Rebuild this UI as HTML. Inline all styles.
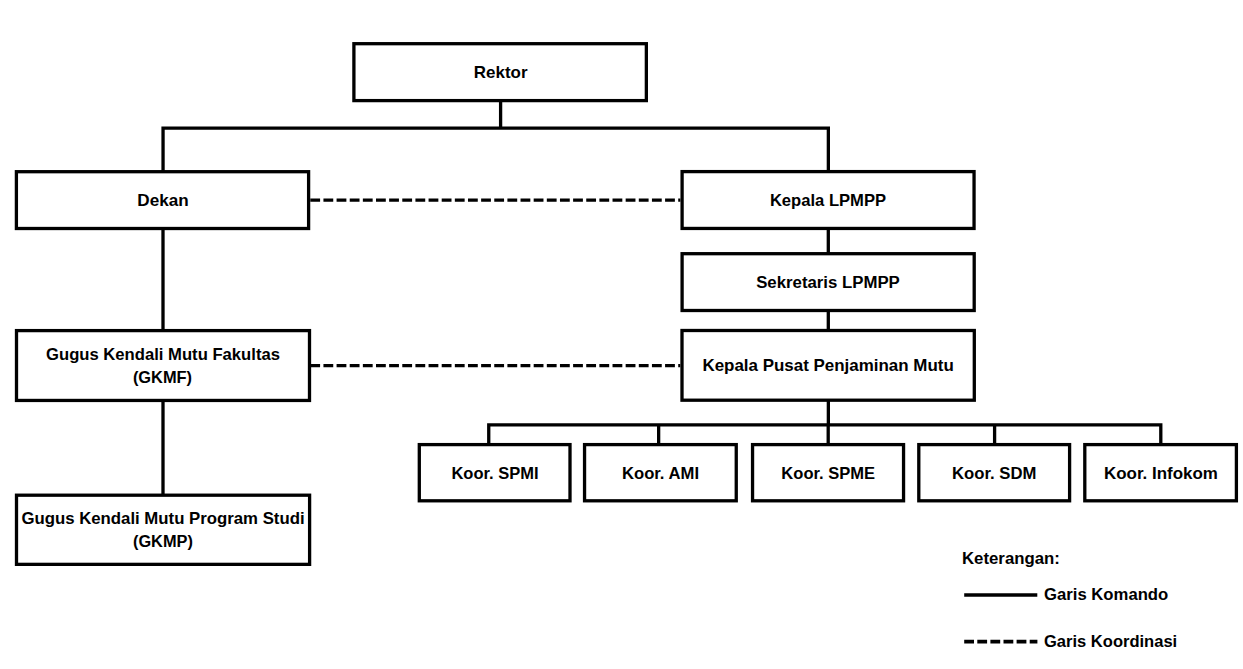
<!DOCTYPE html>
<html><head><meta charset="utf-8"><style>
html,body{margin:0;padding:0;background:#fff;width:1243px;height:669px;overflow:hidden}
svg{display:block}
text{font-family:"Liberation Sans",sans-serif;font-weight:bold;font-size:16.7px;fill:#000}
</style></head><body>
<svg width="1243" height="669" viewBox="0 0 1243 669">
<g fill="none" stroke="#000" stroke-width="3.3">
<rect x="353.9" y="43.7" width="292.45" height="56.9"/>
<rect x="16.4" y="171.7" width="292.2" height="56.8"/>
<rect x="682.1" y="171.6" width="291.95" height="56.85"/>
<rect x="682.1" y="253.7" width="292.1" height="56.8"/>
<rect x="682" y="330.5" width="292.3" height="69.7"/>
<rect x="16.5" y="330.6" width="293" height="69.85"/>
<rect x="16.5" y="495.2" width="293.1" height="69.15"/>
<rect x="419.3" y="444.6" width="150.7" height="56.2"/>
<rect x="584.55" y="444.6" width="151.7" height="56.2"/>
<rect x="752.55" y="444.6" width="151" height="56.2"/>
<rect x="918.8" y="444.6" width="150.8" height="56.2"/>
<rect x="1084.8" y="444.6" width="151.6" height="56.2"/>
<path d="M500.6 100.6V128.1M163.05 171.7V128.1H828.35V171.6"/>
<path d="M163 228.5V330.6M163 400.45V495.2"/>
<path d="M828.3 228.45V253.7M828.3 310.5V330.5M828.35 400.2V424.8"/>
<path d="M488.75 444.6V424.8H1160.8V444.6M658.65 424.8V444.6M828.2 424.8V444.6M994.6 424.8V444.6"/>
<path d="M310.3 200.1H680.4M310.3 365.7H680.3" stroke-dasharray="9.8 3.34"/>
<path d="M964.2 595H1037.3" stroke-width="3.7"/>
<path d="M964.2 641.6H1037.4" stroke-width="3.8" stroke-dasharray="9.8 3.3"/>
</g>
<g text-anchor="middle">
<text x="500.7" y="77.8" style="font-size:16.95px">Rektor</text>
<text x="163" y="206" style="font-size:17.1px">Dekan</text>
<text x="828" y="205.6" style="font-size:16.6px">Kepala LPMPP</text>
<text x="828" y="288.2" style="font-size:16.8px">Sekretaris LPMPP</text>
<text x="828.1" y="370.9" style="font-size:16.97px">Kepala Pusat Penjaminan Mutu</text>
<text x="163" y="359.5" style="font-size:16.65px">Gugus Kendali Mutu Fakultas</text>
<text x="162.5" y="382.6" style="font-size:16.4px">(GKMF)</text>
<text x="163" y="523.7" style="font-size:16.77px">Gugus Kendali Mutu Program Studi</text>
<text x="162.9" y="546.8" style="font-size:16.35px">(GKMP)</text>
<text x="495" y="478.8" style="font-size:16.5px">Koor. SPMI</text>
<text x="660.5" y="478.8" style="font-size:16.65px">Koor. AMI</text>
<text x="828.2" y="478.8" style="font-size:16.55px">Koor. SPME</text>
<text x="994.2" y="478.8" style="font-size:16.7px">Koor. SDM</text>
<text x="1160.9" y="478.8" style="font-size:16.95px">Koor. Infokom</text>
</g>
<g>
<text x="962" y="564.1" style="font-size:16.8px">Keterangan:</text>
<text x="1044" y="600.2" style="font-size:16.7px">Garis Komando</text>
<text x="1044" y="647.1" style="font-size:16.55px">Garis Koordinasi</text>
</g>
</svg>
</body></html>
